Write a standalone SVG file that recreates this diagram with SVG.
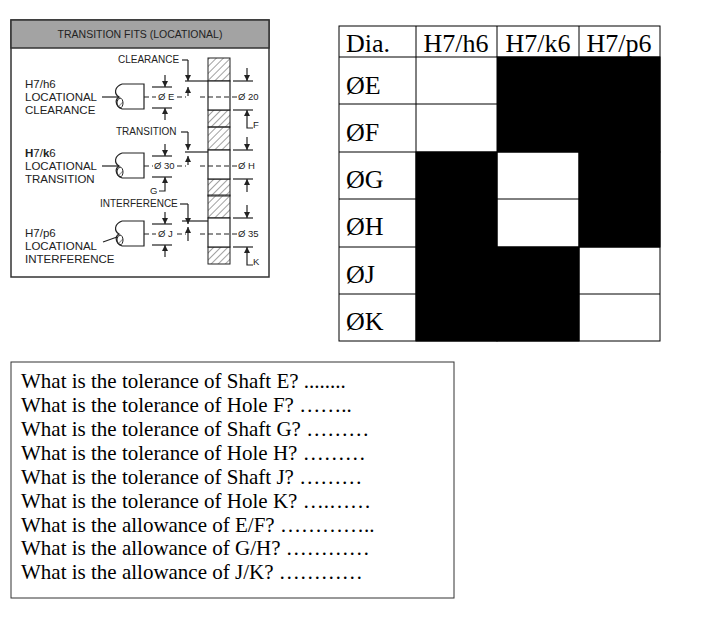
<svg xmlns="http://www.w3.org/2000/svg" width="726" height="617" viewBox="0 0 726 617">
<style>
.s{font-family:"Liberation Sans",Arial,sans-serif;fill:#222}
.t{font-family:"Liberation Serif","Times New Roman",serif;fill:#000}
.ln{stroke:#222;stroke-width:1.2;fill:none}
.dl{stroke:#222;stroke-width:1.2;fill:none;stroke-dasharray:5,3}
.cell{fill:#fff;stroke:#000;stroke-width:1}
.blk{fill:#000;stroke:#000;stroke-width:1}
</style>
<defs>
<pattern id="h" width="5" height="5" patternUnits="userSpaceOnUse" patternTransform="rotate(45)">
<line x1="0" y1="0" x2="0" y2="5" stroke="#444" stroke-width="1"/>
</pattern>
<marker id="a" viewBox="0 0 6 6" refX="6" refY="3" markerWidth="5" markerHeight="5" orient="auto"><path d="M0,0L6,3L0,6z" fill="#222"/></marker>
<g id="fit">
<path class="ln" d="M122,-13H144V12H122"/>
<path class="ln" d="M122,-13C114,-10 114,-3 119,0C114,3 116,9 122,12"/>
<ellipse cx="120" cy="6" rx="3" ry="5" fill="url(#h)" stroke="#222"/>
<line class="ln" x1="152" y1="-10" x2="172" y2="-10"/>
<line class="ln" x1="152" y1="11" x2="172" y2="11"/>
<line class="ln" x1="165" y1="-22" x2="165" y2="-10" marker-end="url(#a)"/>
<line class="ln" x1="165" y1="23" x2="165" y2="11" marker-end="url(#a)"/>
<rect x="208" y="-39" width="22" height="23" fill="url(#h)" stroke="#222"/>
<rect x="208" y="13" width="22" height="17" fill="url(#h)" stroke="#222"/>
<rect x="208" y="-16" width="22" height="29" fill="#fff" stroke="#222" stroke-width="1.2"/>
<line class="ln" x1="233" y1="-16" x2="253" y2="-16"/>
<line class="ln" x1="233" y1="13" x2="253" y2="13"/>
<line class="ln" x1="247" y1="-29" x2="247" y2="-16" marker-end="url(#a)"/>
<line class="ln" x1="247" y1="26" x2="247" y2="13" marker-end="url(#a)"/>
<line class="dl" x1="200" y1="0" x2="237" y2="0"/>
</g>
</defs>

<g id="figure">
<rect x="11" y="20" width="258" height="257" fill="#fff" stroke="#333" stroke-width="1.5"/>
<rect x="11" y="20" width="258" height="28" fill="#a3a3a3" stroke="#333" stroke-width="1.5"/>
<text class="s" x="140" y="38" font-size="10.5" text-anchor="middle">TRANSITION FITS (LOCATIONAL)</text>
</g>

<g id="row1" transform="translate(0,97)">
<use href="#fit"/>
<text class="s" x="25" y="-9" font-size="11.5">H7/h6</text>
<text class="s" x="25" y="4" font-size="11.5">LOCATIONAL</text>
<text class="s" x="25" y="17" font-size="11.5">CLEARANCE</text>
<line class="ln" x1="102" y1="0" x2="119" y2="0"/>
<line class="dl" x1="144" y1="0" x2="156" y2="0"/>
<text class="s" x="158" y="3" font-size="9.5">Ø E</text>
<line class="dl" x1="177" y1="0" x2="186" y2="0"/>
<text class="s" x="118" y="-34" font-size="10">CLEARANCE</text>
<line class="ln" x1="182" y1="-37" x2="188" y2="-37"/>
<line class="ln" x1="188" y1="-37" x2="188" y2="-16" marker-end="url(#a)"/>
<line class="ln" x1="185" y1="-16" x2="208" y2="-16"/>
<line class="ln" x1="188" y1="-1" x2="188" y2="-10" marker-end="url(#a)"/>
<text class="s" x="238" y="3" font-size="9.5">Ø 20</text>
<path class="ln" d="M247,26V31H253"/>
<text class="s" x="253" y="31" font-size="9.5">F</text>
</g>

<g id="row2" transform="translate(0,166)">
<use href="#fit"/>
<text class="s" x="25" y="-9" font-size="11.5"><tspan font-weight="bold">H</tspan>7/<tspan font-weight="bold">k</tspan>6</text>
<text class="s" x="25" y="4" font-size="11.5">LOCATIONAL</text>
<text class="s" x="25" y="17" font-size="11.5">TRANSITION</text>
<line class="ln" x1="102" y1="0" x2="119" y2="0"/>
<line class="dl" x1="144" y1="0" x2="153" y2="0"/>
<text class="s" x="154" y="3" font-size="9.5">Ø 30</text>
<line class="dl" x1="177" y1="0" x2="186" y2="0"/>
<text class="s" x="116" y="-31" font-size="10">TRANSITION</text>
<line class="ln" x1="181" y1="-34" x2="188" y2="-34"/>
<line class="ln" x1="188" y1="-34" x2="188" y2="-16" marker-end="url(#a)"/>
<line class="ln" x1="185" y1="-14" x2="208" y2="-14"/>
<line class="ln" x1="188" y1="-1" x2="188" y2="-10" marker-end="url(#a)"/>
<text class="s" x="238" y="3" font-size="9.5">Ø H</text>
<path class="ln" d="M165,23V25H159"/>
<text class="s" x="150" y="28" font-size="9.5">G</text>
</g>

<g id="row3" transform="translate(0,234)">
<use href="#fit"/>
<text class="s" x="25" y="3" font-size="11.5">H7/p6</text>
<text class="s" x="25" y="16" font-size="11.5">LOCATIONAL</text>
<text class="s" x="25" y="29" font-size="11.5">INTERFERENCE</text>
<line class="ln" x1="103" y1="8" x2="117" y2="3"/>
<line class="dl" x1="144" y1="0" x2="156" y2="0"/>
<text class="s" x="158" y="3" font-size="9.5">Ø J</text>
<line class="dl" x1="177" y1="0" x2="186" y2="0"/>
<text class="s" x="100" y="-27" font-size="10">INTERFERENCE</text>
<line class="ln" x1="180" y1="-30" x2="188" y2="-30"/>
<line class="ln" x1="188" y1="-30" x2="188" y2="-10" marker-end="url(#a)"/>
<line class="ln" x1="182" y1="-13" x2="208" y2="-13"/>
<line class="ln" x1="188" y1="7" x2="188" y2="-7" marker-end="url(#a)"/>
<text class="s" x="238" y="3" font-size="9.5">Ø 35</text>
<path class="ln" d="M247,26V31H253"/>
<text class="s" x="253" y="31" font-size="9.5">K</text>
</g>

<g id="table">
<rect class="cell" x="339" y="26" width="321" height="315"/>
<rect class="blk" x="497" y="57" width="163" height="95"/>
<rect class="blk" x="416" y="152" width="81" height="189"/>
<rect class="blk" x="579" y="152" width="81" height="95"/>
<rect class="blk" x="497" y="247" width="82" height="94"/>
<g stroke="#000" stroke-width="1">
<line x1="339" y1="57" x2="660" y2="57"/>
<line x1="339" y1="104" x2="497" y2="104"/>
<line x1="339" y1="152" x2="660" y2="152"/>
<line x1="339" y1="199" x2="416" y2="199"/><line x1="497" y1="199" x2="579" y2="199"/>
<line x1="339" y1="247" x2="660" y2="247"/>
<line x1="339" y1="294" x2="416" y2="294"/><line x1="579" y1="294" x2="660" y2="294"/>
<line x1="416" y1="26" x2="416" y2="341"/>
<line x1="497" y1="26" x2="497" y2="57"/><line x1="497" y1="152" x2="497" y2="247"/>
<line x1="579" y1="26" x2="579" y2="57"/><line x1="579" y1="152" x2="579" y2="341"/>
</g>
<g class="t" font-size="26">
<text x="346" y="52">Dia.</text>
<text x="456" y="52" text-anchor="middle">H7/h6</text>
<text x="538" y="52" text-anchor="middle">H7/k6</text>
<text x="619" y="52" text-anchor="middle">H7/p6</text>
<text x="346" y="94">ØE</text>
<text x="346" y="141">ØF</text>
<text x="346" y="188">ØG</text>
<text x="346" y="235">ØH</text>
<text x="346" y="283">ØJ</text>
<text x="346" y="330">ØK</text>
</g>
</g>

<g id="questions">
<rect x="11" y="362" width="443" height="236" fill="#fff" stroke="#333" stroke-width="1"/>
<g class="t" font-size="21">
<text x="21" y="388">What is the tolerance of Shaft E? ........</text>
<text x="21" y="412">What is the tolerance of Hole F? ……..</text>
<text x="21" y="436">What is the tolerance of Shaft G? ………</text>
<text x="21" y="460">What is the tolerance of Hole H? ………</text>
<text x="21" y="484">What is the tolerance of Shaft J? ………</text>
<text x="21" y="508">What is the tolerance of Hole K? ….……</text>
<text x="21" y="532">What is the allowance of E/F? …………..</text>
<text x="21" y="555">What is the allowance of G/H? …………</text>
<text x="21" y="579">What is the allowance of J/K? …………</text>
</g>
</g>
</svg>
